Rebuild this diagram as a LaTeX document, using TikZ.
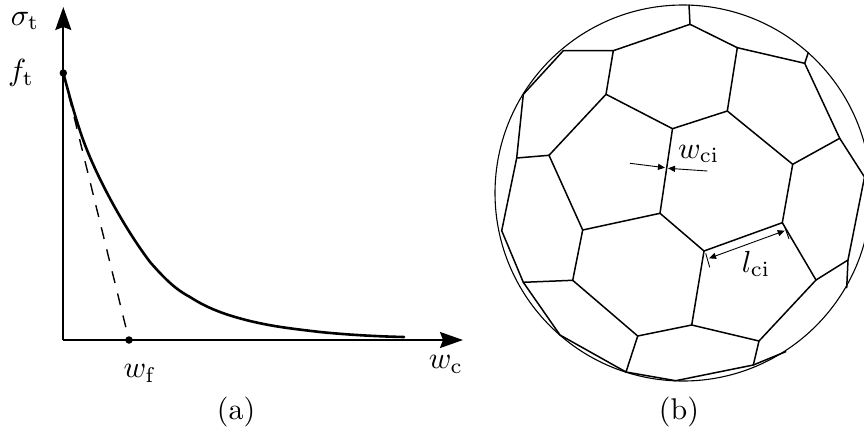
\documentclass[tikz,border=0pt]{standalone}
\usetikzlibrary{arrows.meta}
\tikzset{
  axis/.style={line width=1.8pt,-{Stealth[length=23pt,width=16pt,inset=3pt]}},
  seam/.style={line width=1.5pt,line cap=round,line join=round},
  ball/.style={line width=1.1pt},
  dim/.style={line width=0.9pt},
  dimtip/.style={-{Triangle[length=7pt,width=6pt]}},
  lab/.style={inner sep=0pt,scale=3.05},
  caplab/.style={inner sep=0pt,scale=3},
  pt/.style={circle,fill=black,inner sep=0pt,minimum size=7.5pt}
}
\begin{document}
\begin{tikzpicture}[x=1pt,y=-1pt]
\clip (0,0) rectangle (864,434);
\fill[white] (0,0) rectangle (864,434);
% ---- (a)
\coordinate (O) at (63.3,340);
\coordinate (Ytop) at (63.3,7);
\coordinate (Xend) at (463,340);
\node[pt] (ft) at (63.3,73) {};
\node[pt] (wf) at (129,340) {};
\draw[axis] (O) -- (Ytop);
\draw[axis] (O) -- (Xend);
\draw[line width=1.4pt,dash pattern=on 12pt off 10.7pt] (ft.center) -- (wf.center);
\draw[line width=2.6pt,line cap=round] (ft.center) .. controls (70,98) and (78,128) .. (87,150)
  .. controls (97,175) and (120,222) .. (150,262)
  .. controls (165,279) and (175,289) .. (190,297)
  .. controls (210,310) and (230,316) .. (250,321)
  .. controls (275,327) and (295,329) .. (320,332)
  .. controls (350,335) and (380,336.5) .. (404,337);
\node[lab] (lsig) at (25,21) {$\sigma_{\mathrm{t}}$};
\node[lab] (lf) at (21,73) {$f_{\mathrm{t}}$};
\node[lab] (lwf) at (140,373.5) {$w_{\mathrm{f}}$};
\node[lab] (lwc) at (446,364.5) {$w_{\mathrm{c}}$};
\node[caplab] (capa) at (236,412) {(a)};
\node[caplab] (capb) at (679,412) {(b)};
% ---- (b)
\coordinate (ctr) at (683,193);
\draw[ball] (ctr) circle (188);
\foreach \n/\x/\y in {
 A/563.3/50.7,B/613.3/50.7,C/606/94.3,D/523.3/94.3,E/672.5/128.7,F/549/155.3,G/516.7/158,
 H/690/24.3,Ht/689/5,I/737.3/47.7,J/804.7/63.3,K/808.3/52.7,L/727.3/111,N/792.7/164.3,
 Oo/839.7/138.3,P/864.5/177,Q/660/213.3,R/582.7/230,S/572.7/280.3,T/523.3/282.3,U/501.7/230.7,
 V/560/335,W/626/372,X/637.7/336,Y/704/251,Z/782.3/222.7,AA/816/280,AB/848/260,AC/846.7/287.7,
 AD/691.7/325,AE/759/341,AF/753.3/365,AG/785.7/351.7,AH/675.7/380.7}
 {\coordinate (\n) at (\x,\y);}
\draw[seam] (D)--(A)--(B)--(C)--(F)--(G)--(D);
\draw[seam] (C)--(E)--(Q)--(R)--(F);
\draw[seam] (G)--(U)--(T)--(S)--(R);
\draw[seam] (B)--(H)--(I)--(L)--(E);
\draw[seam] (H)--(Ht);
\draw[seam] (I)--(J)--(K);
\draw[seam] (J)--(Oo)--(N)--(L);
\draw[seam] (Oo)--(P)--(AB)--(AC);
\draw[seam] (N)--(Z)--(Y)--(Q);
\draw[seam] (Z)--(AA)--(AB);
\draw[seam] (AA)--(AE)--(AD)--(Y);
\draw[seam] (AD)--(X)--(S);
\draw[seam] (T)--(V)--(W)--(X);
\draw[seam] (W)--(AH)--(AF)--(AE);
\draw[seam] (AF)--(AG);
% dimensions
\coordinate (w1) at (630,163.3);
\coordinate (w2) at (665,167.7);
\coordinate (w3) at (707.3,171);
\coordinate (w4) at (668,168.3);
\draw[dim,dimtip] (w1)--(w2);
\draw[dim,dimtip] (w3)--(w4);
\coordinate (l1) at (709,258.3);
\coordinate (l2) at (784.7,230.7);
\draw[dim,{Triangle[length=7pt,width=6pt]}-{Triangle[length=7pt,width=6pt]}] (l1)--(l2);
\coordinate (t1) at (705.7,253.3);
\coordinate (t2) at (709.7,267.3);
\coordinate (t3) at (784,225);
\coordinate (t4) at (789,239);
\draw[dim] (t1)--(t2);
\draw[dim] (t3)--(t4);
\node[lab] (lwci) at (698.7,154) {$w_{\mathrm{ci}}$};
\node[lab] (llci) at (756,264) {$l_{\mathrm{ci}}$};
\end{tikzpicture}
\end{document}
